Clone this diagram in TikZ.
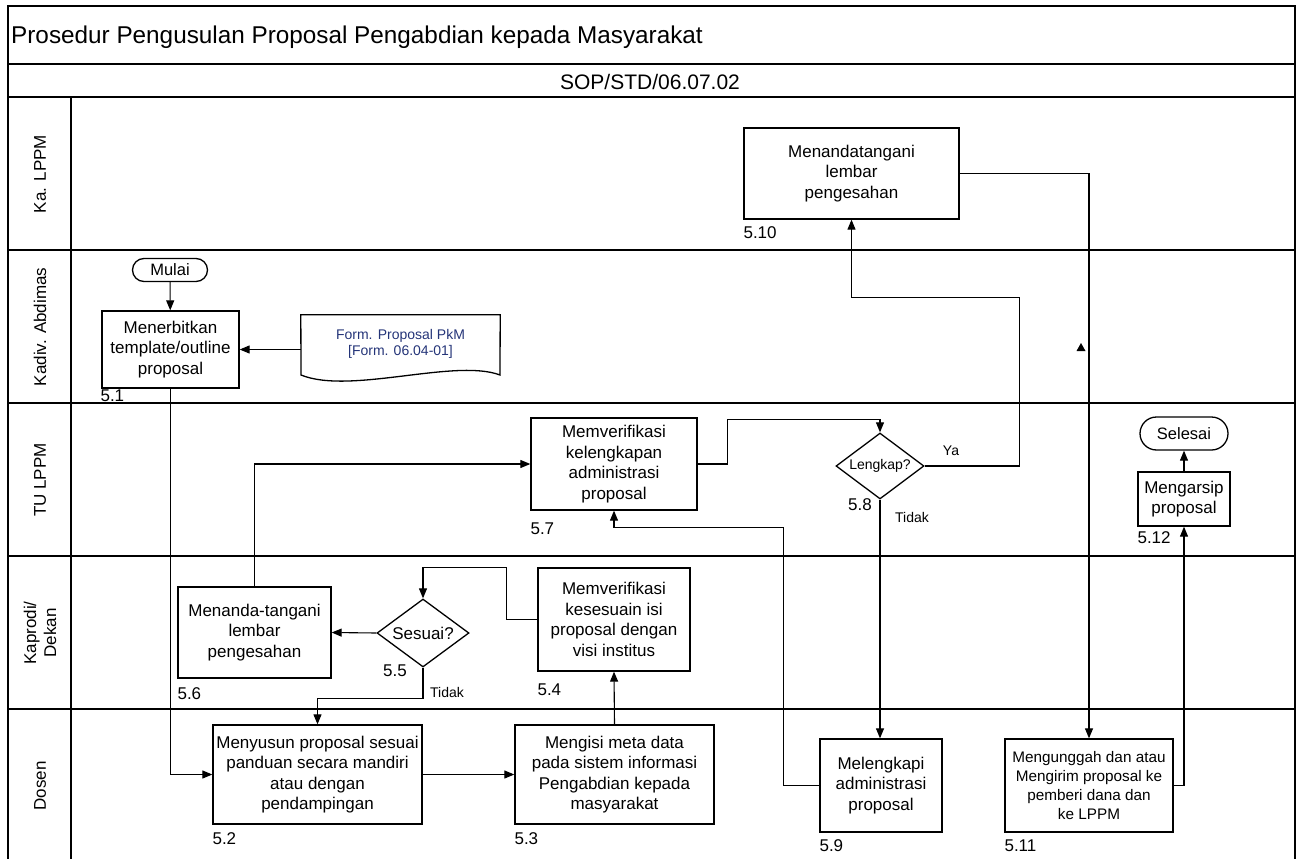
\documentclass[tikz,border=0pt]{standalone}
\usepackage{fontspec}
\setmainfont{Liberation Sans}
\usetikzlibrary{shapes.geometric, shapes.misc, arrows.meta, positioning, calc}
\definecolor{formblue}{RGB}{36,52,120}

\begin{document}
\begin{tikzpicture}[x=1pt, y=-1pt,
    flow/.style={line width=1.1pt, -{Triangle[length=10pt,width=8pt]}},
    link/.style={line width=1.1pt},
    frameline/.style={line width=1.6pt},
    procbox/.style={draw, line width=1.3pt, align=center, inner sep=1pt,
                    font=\fontsize{17}{20.5}\selectfont},
    decbox/.style={draw, diamond, line width=1.3pt, inner sep=0pt, align=center},
    termbox/.style={draw, rounded rectangle, line width=1.3pt, inner sep=0pt,
                    font=\fontsize{16.5}{20}\selectfont},
    stepno/.style={inner sep=0pt, font=\fontsize{17}{20}\selectfont},
    branch/.style={inner sep=0pt, font=\fontsize{14}{16}\selectfont},
    lanelabel/.style={rotate=90, align=center, inner sep=0pt,
                      font=\fontsize{17}{20}\selectfont}]
    \useasboundingbox (0,0) rectangle (1301,859);

    % frame and swimlanes
    \draw[frameline] (8,859) -- (8,6) -- (1295,6) -- (1295,859);
    \draw[frameline] (8,64) -- (1295,64);
    \draw[frameline] (8,97) -- (1295,97);
    \draw[frameline] (8,250) -- (1295,250);
    \draw[frameline] (8,403) -- (1295,403);
    \draw[frameline] (8,556) -- (1295,556);
    \draw[frameline] (8,709) -- (1295,709);
    \draw[frameline] (71,97) -- (71,859);

    \node[anchor=west, inner sep=0pt, font=\fontsize{24.3}{28}\selectfont] (judul) at (11,37)
        {Prosedur Pengusulan Proposal Pengabdian kepada Masyarakat};
    \node[inner sep=0pt, font=\fontsize{21}{24}\selectfont] (kode) at (650,82) {SOP/STD/06.07.02};

    \node[lanelabel] (lanekalppm) at (40,174) {Ka. LPPM};
    \node[lanelabel] (lanekadiv) at (40,327) {Kadiv. Abdimas};
    \node[lanelabel] (lanetu) at (40,480) {TU LPPM};
    \node[lanelabel] (lanekaprodi) at (40,633) {Kaprodi/\\Dekan};
    \node[lanelabel] (lanedosen) at (40,786) {Dosen};

    % steps
    \node[termbox, minimum width=75pt, minimum height=23pt] (mulai) at (170,270) {Mulai};
    \node[procbox, minimum width=137pt, minimum height=77pt] (p51) at (170.5,349.5)
        {Menerbitkan\\template/outline\\proposal};
    \node[minimum width=199pt, minimum height=58pt, inner sep=0pt, align=center,
          text=formblue, font=\fontsize{14}{15.5}\selectfont] (frm) at (400.5,344)
        {Form. Proposal PkM\\{[Form. 06.04-01]}};
    \draw[line width=1.3pt] (frm.north west) -- (frm.north east) -- (500,375)
        .. controls (455,358) and (350,395) .. (301,375) -- cycle;

    \node[procbox, minimum width=209pt, minimum height=99pt] (p52) at (317.5,774.5)
        {Menyusun proposal sesuai\\panduan secara mandiri\\atau dengan\\pendampingan};
    \node[procbox, minimum width=199pt, minimum height=99pt] (p53) at (614.5,774.5)
        {Mengisi meta data\\pada sistem informasi\\Pengabdian kepada\\masyarakat};
    \node[procbox, minimum width=152pt, minimum height=103pt] (p54) at (614,619.5)
        {Memverifikasi\\kesesuain isi\\proposal dengan\\visi institus};
    \node[decbox, minimum width=92pt, minimum height=68pt, aspect=1.35,
          font=\fontsize{17}{20}\selectfont] (d55) at (423,633) {Sesuai?};
    \node[procbox, minimum width=153pt, minimum height=91pt] (p56) at (254.5,632.5)
        {Menanda-tangani\\lembar\\pengesahan};
    \node[procbox, minimum width=166pt, minimum height=92pt] (p57) at (614,464)
        {Memverifikasi\\kelengkapan\\administrasi\\proposal};
    \node[decbox, minimum width=88pt, minimum height=66pt, aspect=1.33,
          font=\fontsize{14}{16}\selectfont] (d58) at (880,466) {Lengkap?};
    \node[procbox, minimum width=122pt, minimum height=93pt] (p59) at (881,785.5)
        {Melengkapi\\administrasi\\proposal};
    \node[procbox, minimum width=215pt, minimum height=91pt] (p510) at (851.5,173.5)
        {Menandatangani\\lembar\\pengesahan};
    \node[procbox, minimum width=168pt, minimum height=93pt,
          font=\fontsize{15.3}{19}\selectfont] (p511) at (1089,785.5)
        {Mengunggah dan atau\\Mengirim proposal ke\\pemberi dana dan\\ke LPPM};
    \node[procbox, minimum width=92pt, minimum height=54pt] (p512) at (1184,499)
        {Mengarsip\\proposal};
    \node[termbox, minimum width=88pt, minimum height=33pt] (selesai) at (1184,433.5) {Selesai};

    % step numbers
    \node[stepno, below right=1pt and -1pt of p51.south west] (n51) {5.1};
    \node[stepno, below right=8pt and 0pt of p52.south west] (n52) {5.2};
    \node[stepno, below right=8pt and 0pt of p53.south west] (n53) {5.3};
    \node[stepno, below right=12pt and 0pt of p54.south west] (n54) {5.4};
    \node[stepno, below left=-3pt and 16pt of d55.south] (n55) {5.5};
    \node[stepno, below right=9pt and 0pt of p56.south west] (n56) {5.6};
    \node[stepno, below right=12pt and 0pt of p57.south west] (n57) {5.7};
    \node[stepno, below left=-1pt and 8pt of d58.south] (n58) {5.8};
    \node[stepno, below right=7pt and 0pt of p59.south west] (n59) {5.9};
    \node[stepno, below right=7pt and 0pt of p510.south west] (n510) {5.10};
    \node[stepno, below right=7pt and 0pt of p511.south west] (n511) {5.11};
    \node[stepno, below right=5pt and 0pt of p512.south west] (n512) {5.12};

    % connectors
    \draw[flow] (mulai) -- (p51);
    \draw[flow] (frm.west |- p51.east) -- (p51.east);
    \draw[flow] (p51.south) |- (p52.west);
    \draw[flow] (p52.east) -- (p53.west);
    \draw[flow] (p53.north) -- (p54.south);
    \draw[flow] (p54.west) -- ++(-31,0) |- (d55.north |- p54.north) -- (d55.north);
    \draw[flow] (d55.west) -- (p56.east);
    \draw[flow] (d55.south) -- ++(0,31) -| (p52.north);
    \draw[flow] (p56.north) |- (p57.west);
    \draw[flow] (p57.east) -- ++(30,0) |- ($(d58.north)+(0,-13)$) -- (d58.north);
    \draw[flow] (d58.east) -- ++(95,0) |- ($(p510.south)+(0,78)$) -- (p510.south);
    \draw[flow] (d58.south) -- (d58.south |- p59.north);
    \draw[flow] (p59.west) -- ++(-36,0) |- ($(p57.south)+(0,17)$) -- (p57.south);
    \draw[flow] (p510.east) -| (p511.north);
    \draw[flow] (p511.east) -| (p512.south);
    \draw[flow] (p512.north) -- (selesai.south);
    \fill (1081,343) -- (1076.5,351) -- (1085.5,351) -- cycle;

    % branch labels
    \node[branch] (tidak55) at (447,692) {Tidak};
    \node[branch] (ya58) at (951,451) {Ya};
    \node[branch] (tidak58) at (912,517) {Tidak};
\end{tikzpicture}
\end{document}
